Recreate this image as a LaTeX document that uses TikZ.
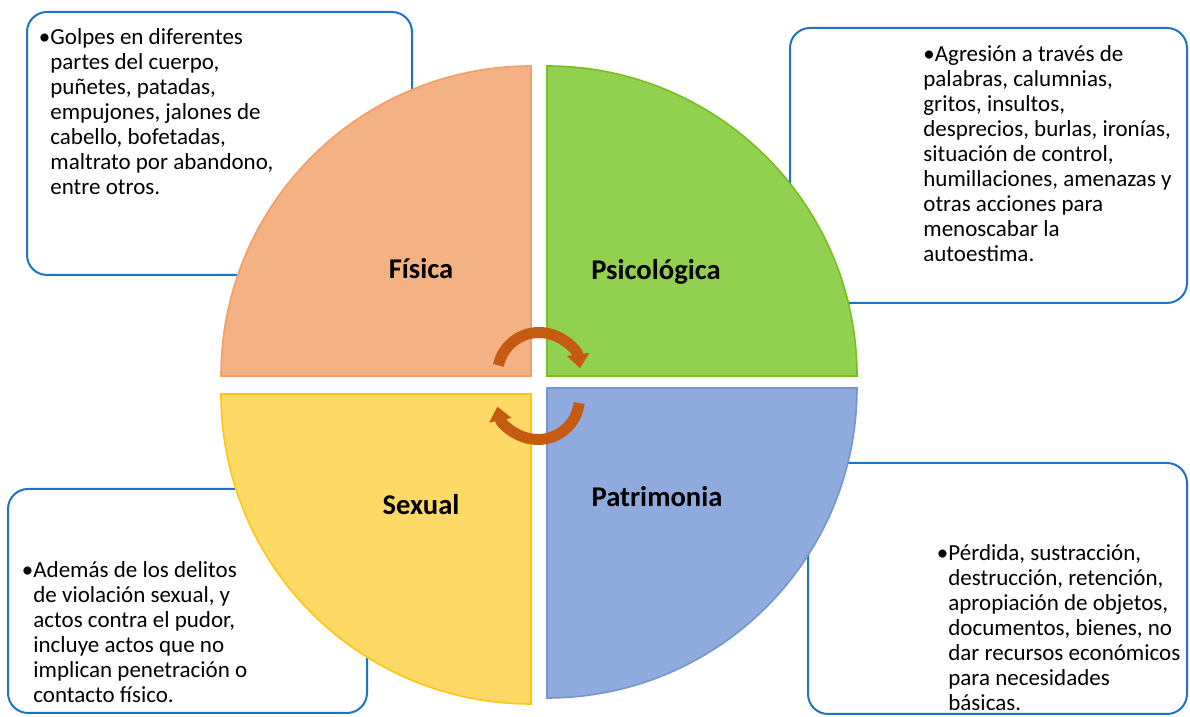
\documentclass[tikz,border=0pt]{standalone}
\usepackage{fontspec}
\setmainfont{Carlito}
\usepackage{tikz}
\usetikzlibrary{calc,arrows.meta}
\definecolor{fisfill}{RGB}{244,177,131}
\definecolor{fisline}{RGB}{240,160,105}
\definecolor{psifill}{RGB}{146,208,80}
\definecolor{psiline}{RGB}{120,190,30}
\definecolor{sexfill}{RGB}{255,217,102}
\definecolor{sexline}{RGB}{255,196,20}
\definecolor{patfill}{RGB}{143,170,220}
\definecolor{patline}{RGB}{115,150,210}
\definecolor{boxblue}{RGB}{30,115,195}
\definecolor{arrowred}{RGB}{197,90,17}

\begin{document}
\begin{tikzpicture}[x=0.5pt,y=0.5pt]

\tikzset{infobox/.style={draw=boxblue,line width=1pt,fill=white,rounded corners=10pt},
quadrant/.style={line width=0.8pt},
quadlabel/.style={font=\fontsize{14.3}{17}\selectfont\bfseries,anchor=base},
bullettext/.style={font=\fontsize{11.5}{12.5}\selectfont,align=left,anchor=base west,inner sep=0pt},
cyclearrow/.style={draw=arrowred,line width=5.5pt,-{Triangle[width=11pt,length=7pt]}}}

\useasboundingbox (0,0) rectangle (1190,717);

% Boxes
\draw[infobox] (27,705) rectangle (412,442);
\draw[infobox] (790,689) rectangle (1187,414);
\draw[infobox] (8,228) rectangle (367,4);
\draw[infobox] (808,254) rectangle (1187,3);

% Quadrants
\coordinate (cFis) at (531,341); \coordinate (cPsi) at (547,341);
\coordinate (cSex) at (531,323); \coordinate (cPat) at (547,329);
\filldraw[quadrant,fill=fisfill,draw=fisline] (cFis) -- ++(-310,0) arc[start angle=180,end angle=90,radius=310] -- cycle;
\filldraw[quadrant,fill=psifill,draw=psiline] (cPsi) -- ++(310,0) arc[start angle=0,end angle=90,radius=310] -- cycle;
\filldraw[quadrant,fill=sexfill,draw=sexline] (cSex) -- ++(-310,0) arc[start angle=180,end angle=270,radius=310] -- cycle;
\filldraw[quadrant,fill=patfill,draw=patline] (cPat) -- ++(310,0) arc[start angle=0,end angle=-90,radius=310] -- cycle;

% Labels
\node[quadlabel] (fis) at (421,438) {Física};
\node[quadlabel] (psi) at (656,437) {Psicológica};
\node[quadlabel] (sex) at (421,202) {Sexual};
\node[quadlabel] (pat) at (657,210) {Patrimonia};

% Cycle arrows
\coordinate (rotTop) at (539,343); \coordinate (rotBot) at (538,319);
\draw[cyclearrow] ($(rotTop)+(168:41.5)$) arc[start angle=168,end angle=8,radius=41.5];
\draw[cyclearrow] ($(rotBot)+(-7:41.5)$) arc[start angle=-7,end angle=-168,radius=41.5];

% Box texts (anchored at the baseline of the last line)
\node[bullettext] (txtFis) at (50,522) {\llap{•}Golpes en diferentes\\partes del cuerpo,\\puñetes, patadas,\\empujones, jalones de\\cabello, bofetadas,\\maltrato por abandono,\\entre otros.};
\node[bullettext] (txtPsi) at (923,455) {•Agresión a través de\\palabras, calumnias,\\gritos, insultos,\\desprecios, burlas, ironías,\\situación de control,\\humillaciones, amenazas y\\otras acciones para\\menoscabar la\\autoestima.};
\node[bullettext] (txtSex) at (33,14) {\llap{•}Además de los delitos\\de violación sexual, y\\actos contra el pudor,\\incluye actos que no\\implican penetración o\\contacto físico.};
\node[bullettext] (txtPat) at (948,6) {\llap{•}Pérdida, sustracción,\\destrucción, retención,\\apropiación de objetos,\\documentos, bienes, no\\dar recursos económicos\\para necesidades\\básicas.};

\end{tikzpicture}
\end{document}
